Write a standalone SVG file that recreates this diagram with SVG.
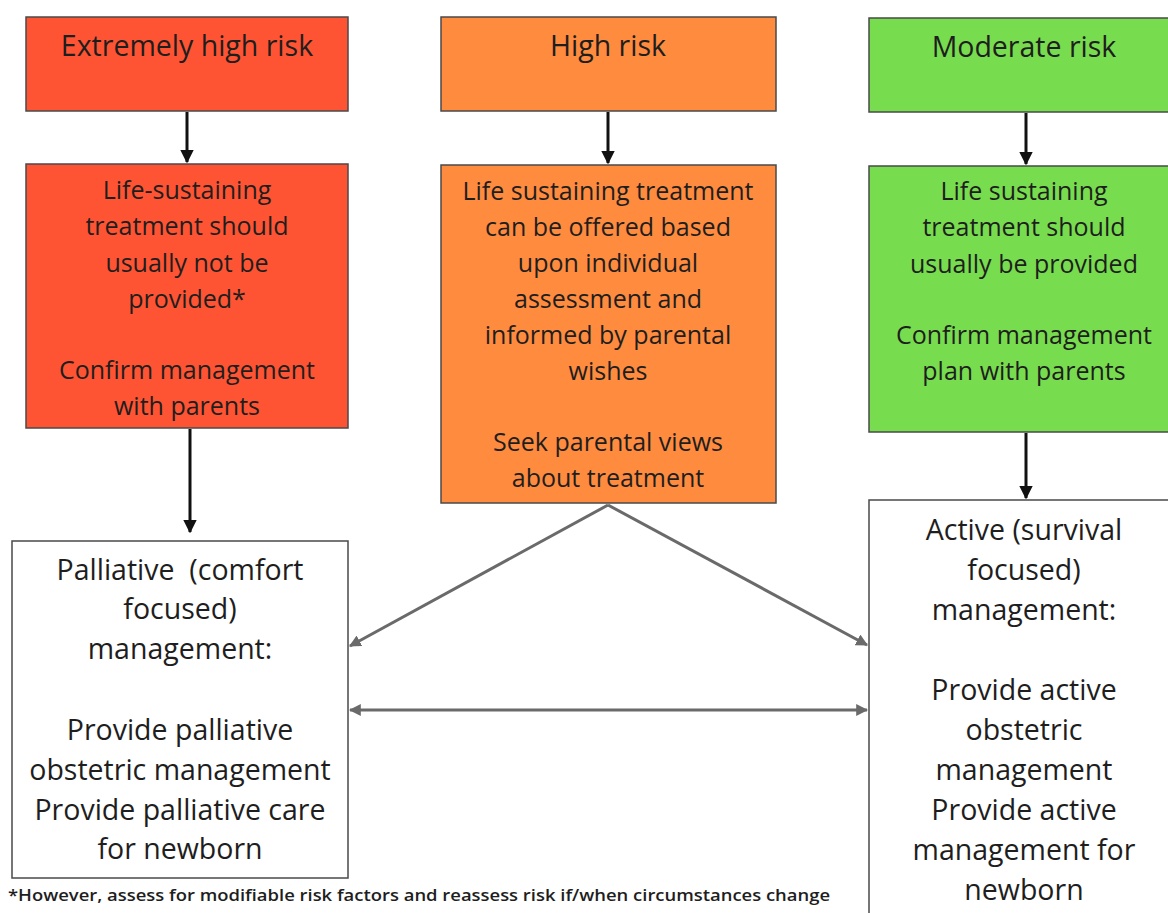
<svg xmlns="http://www.w3.org/2000/svg" width="1168" height="913" viewBox="0 0 1168 913">
<defs>
<style>
.box{stroke:#4a4a4a;stroke-width:1.5}
.red{fill:#ff5433}
.orange{fill:#ff8b3f}
.green{fill:#78dc4f}
.white{fill:#ffffff}
text{font-family:"Open Sans","Liberation Sans",sans-serif;fill:#1e1e1e;text-anchor:middle}
.t1{font-size:28.5px}
.t2{font-size:25px}
.t3{font-size:28.5px}
.fn{font-size:16px;font-weight:600;text-anchor:start}
.blk{stroke:#111;stroke-width:3;fill:none}
.gry{stroke:#6a6a6a;stroke-width:3;fill:none}
</style>
<marker id="ab" viewBox="0 0 10 10" refX="9" refY="5" markerWidth="4.5" markerHeight="4.5" orient="auto"><path d="M0,0L10,5L0,10z" fill="#111"/></marker>
<marker id="ag" viewBox="0 0 10 10" refX="9" refY="5" markerWidth="4" markerHeight="4" orient="auto-start-reverse"><path d="M0,0L10,5L0,10z" fill="#6a6a6a"/></marker>
</defs>
<rect width="1168" height="913" fill="#ffffff"/>
<g id="extremely-high-risk"><rect class="box red" x="26" y="17" width="322" height="94"/><text class="t1" x="187" y="56">Extremely high risk</text></g>
<g id="high-risk"><rect class="box orange" x="441" y="17" width="335" height="94"/><text class="t1" x="608" y="56">High risk</text></g>
<g id="moderate-risk"><rect class="box green" x="869" y="18" width="310" height="94"/><text class="t1" x="1024" y="57">Moderate risk</text></g>
<g id="ehr-treatment"><rect class="box red" x="26" y="164" width="322" height="264"/>
<text class="t2"><tspan x="187" y="199">Life-sustaining</tspan><tspan x="187" y="235">treatment should</tspan><tspan x="187" y="272">usually not be</tspan><tspan x="187" y="308">provided*</tspan><tspan x="187" y="379">Confirm management</tspan><tspan x="187" y="415">with parents</tspan></text></g>
<g id="hr-treatment"><rect class="box orange" x="441" y="165" width="335" height="338"/>
<text class="t2"><tspan x="608" y="200">Life sustaining treatment</tspan><tspan x="608" y="236">can be offered based</tspan><tspan x="608" y="272">upon individual</tspan><tspan x="608" y="308">assessment and</tspan><tspan x="608" y="344">informed by parental</tspan><tspan x="608" y="380">wishes</tspan><tspan x="608" y="451">Seek parental views</tspan><tspan x="608" y="487">about treatment</tspan></text></g>
<g id="mr-treatment"><rect class="box green" x="869" y="166" width="310" height="266"/>
<text class="t2"><tspan x="1024" y="200">Life sustaining</tspan><tspan x="1024" y="236">treatment should</tspan><tspan x="1024" y="273">usually be provided</tspan><tspan x="1024" y="344">Confirm management</tspan><tspan x="1024" y="380">plan with parents</tspan></text></g>
<g id="palliative"><rect class="box white" x="12" y="541" width="336" height="337"/>
<text class="t3"><tspan x="180" y="580">Palliative &#160;(comfort</tspan><tspan x="180" y="619">focused)</tspan><tspan x="180" y="659">management:</tspan><tspan x="180" y="740">Provide palliative</tspan><tspan x="180" y="780">obstetric management</tspan><tspan x="180" y="820">Provide palliative care</tspan><tspan x="180" y="859">for newborn</tspan></text></g>
<g id="active"><rect class="box white" x="869" y="500" width="310" height="430"/>
<text class="t3"><tspan x="1024" y="540">Active (survival</tspan><tspan x="1024" y="580">focused)</tspan><tspan x="1024" y="620">management:</tspan><tspan x="1024" y="700">Provide active</tspan><tspan x="1024" y="740">obstetric</tspan><tspan x="1024" y="780">management</tspan><tspan x="1024" y="820">Provide active</tspan><tspan x="1024" y="860">management for</tspan><tspan x="1024" y="900">newborn</tspan></text></g>
<g id="connectors">
<line class="blk" x1="187" y1="112" x2="187" y2="162" marker-end="url(#ab)"/>
<line class="blk" x1="608" y1="112" x2="608" y2="163" marker-end="url(#ab)"/>
<line class="blk" x1="1026" y1="113" x2="1026" y2="164" marker-end="url(#ab)"/>
<line class="blk" x1="190" y1="429" x2="190" y2="532" marker-end="url(#ab)"/>
<line class="blk" x1="1026" y1="433" x2="1026" y2="498" marker-end="url(#ab)"/>
<line class="gry" x1="608" y1="505" x2="350" y2="646" marker-end="url(#ag)"/>
<line class="gry" x1="608" y1="505" x2="867" y2="645" marker-end="url(#ag)"/>
<line class="gry" x1="350" y1="710" x2="867" y2="710" marker-start="url(#ag)" marker-end="url(#ag)"/>
</g>
<text class="fn" x="8" y="901" textLength="822" lengthAdjust="spacingAndGlyphs">*However, assess for modifiable risk factors and reassess risk if/when circumstances change</text>
</svg>
